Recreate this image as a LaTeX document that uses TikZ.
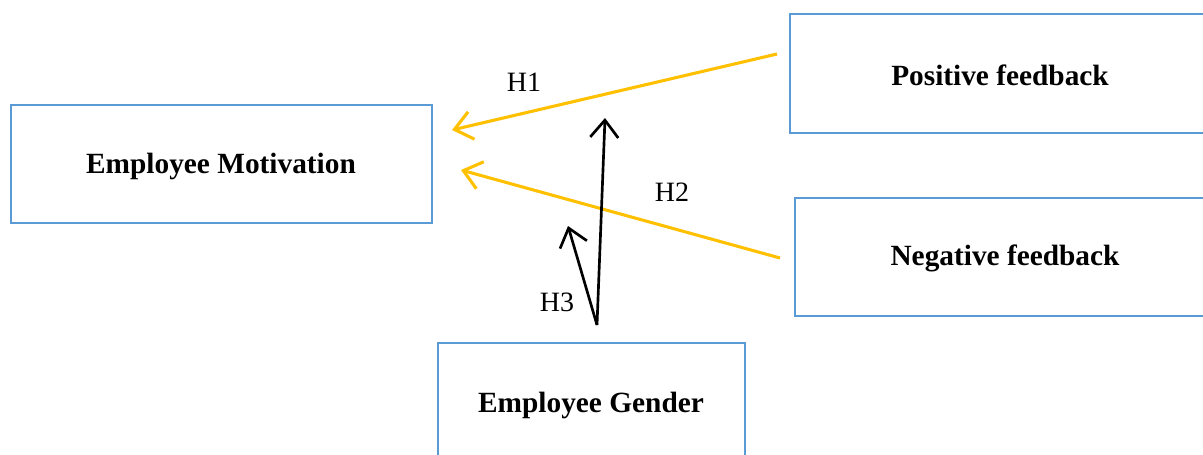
\documentclass[tikz,border=0pt]{standalone}
\usepackage{fontspec}
\setmainfont{Liberation Serif}
\usetikzlibrary{arrows.meta}
\definecolor{boxblue}{HTML}{5B9BD5}
\definecolor{arrorange}{HTML}{FFC000}
\begin{document}
\begin{tikzpicture}[x=0.75pt,y=-0.75pt,
  box/.style={draw=boxblue,line width=1.9pt,inner sep=0pt},
  boxtext/.style={font=\fontsize{22}{25}\selectfont\bfseries},
  hyp/.style={font=\fontsize{21}{24}\selectfont},
  orarrow/.style={draw=arrorange,line width=2.3pt,-{Straight Barb[length=13pt,width=21pt,line width=2.3pt]}},
  blarrow/.style={draw=black,line width=2pt,-{Straight Barb[length=13pt,width=21pt,line width=2pt]}}]
\useasboundingbox (0,0) rectangle (1203,454);
\fill[white] (0,0) rectangle (1203,454);
\clip (0,0) rectangle (1203,454);
% boxes
\draw[box] (11,105) rectangle (432,223);
\node[boxtext] (mot) at (221,166) {Employee Motivation};
\draw[box] (790,14) rectangle (1215,133);
\node[boxtext] (pos) at (1000,75) {Positive feedback};
\draw[box] (795,198) rectangle (1215,316);
\node[boxtext] (neg) at (1005,258) {Negative feedback};
\draw[box] (438,343) rectangle (745,470);
\node[boxtext] (gen) at (591,405) {Employee Gender};
% connector coordinates
\coordinate (p1) at (777,54);
\coordinate (m1) at (452,130);
\coordinate (n1) at (780,258);
\coordinate (m2) at (461,170);
\coordinate (g1) at (597,325);
\coordinate (h1) at (605,118);
\coordinate (h2) at (568,226);
\draw[orarrow] (p1) -- (m1);
\draw[orarrow] (n1) -- (m2);
\draw[blarrow] (g1) -- (h1);
\draw[blarrow] (g1) -- (h2);
% labels
\node[hyp] (l1) at (524,82) {H1};
\node[hyp] (l2) at (672,192) {H2};
\node[hyp] (l3) at (557,302) {H3};
\end{tikzpicture}
\end{document}
